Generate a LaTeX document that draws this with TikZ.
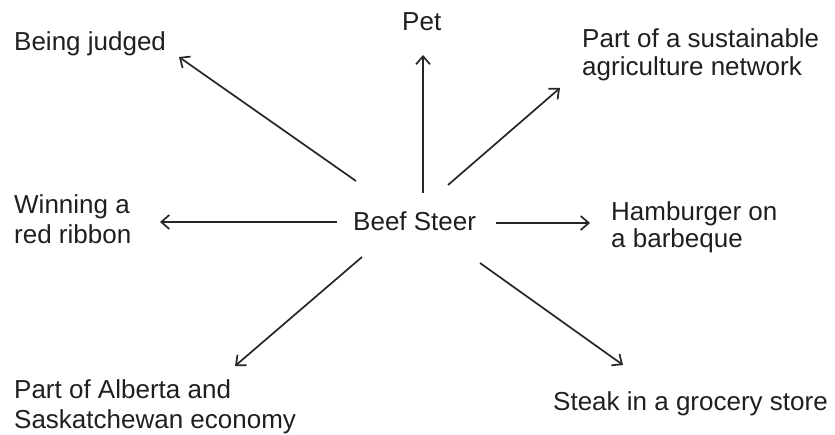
\documentclass[tikz,border=0pt]{standalone}
\usepackage{fontspec}
\setmainfont{Liberation Sans}
\usetikzlibrary{arrows.meta}
\begin{document}
\begin{tikzpicture}[x=1pt,y=-1pt,
  lbl/.style={anchor=base west, inner sep=0pt, align=left, text=black!88, font=\fontsize{26}{29}\selectfont},
  arr/.style={draw=black!85, line width=1.7pt, -{Straight Barb[length=8pt,width=14pt,line width=1.7pt]}}]
\useasboundingbox (0,0) rectangle (835,434);
% labels (multi-line nodes: base anchor is the last line's baseline)
\node[lbl] (steer) at (353,230) {Beef Steer};
\node[lbl] (judged) at (14,50) {Being judged};
\node[lbl] (pet) at (402,30) {Pet};
\node[lbl, font=\fontsize{26}{28}\selectfont] (network) at (582,75) {Part of a sustainable\\agriculture network};
\node[lbl, font=\fontsize{26}{30}\selectfont] (ribbon) at (14,243) {Winning a\\red ribbon};
\node[lbl, font=\fontsize{26}{27}\selectfont] (hamburger) at (611,247) {Hamburger on\\a barbeque};
\node[lbl, font=\fontsize{26}{30}\selectfont] (economy) at (14,428) {Part of Alberta and\\Saskatchewan economy};
\node[lbl] (store) at (553,410) {Steak in a grocery store};
% arrow ends
\coordinate (s1) at (356,181); \coordinate (e1) at (179,57);
\coordinate (s2) at (423,193); \coordinate (e2) at (423,55);
\coordinate (s3) at (448,185); \coordinate (e3) at (560,88);
\coordinate (s4) at (337,222); \coordinate (e4) at (160,222);
\coordinate (s5) at (496,223); \coordinate (e5) at (590,223);
\coordinate (s6) at (362,257); \coordinate (e6) at (235,366);
\coordinate (s7) at (480,263); \coordinate (e7) at (623,365);
\draw[arr] (s1) -- (e1);
\draw[arr] (s2) -- (e2);
\draw[arr] (s3) -- (e3);
\draw[arr] (s4) -- (e4);
\draw[arr] (s5) -- (e5);
\draw[arr] (s6) -- (e6);
\draw[arr] (s7) -- (e7);
\end{tikzpicture}
\end{document}
